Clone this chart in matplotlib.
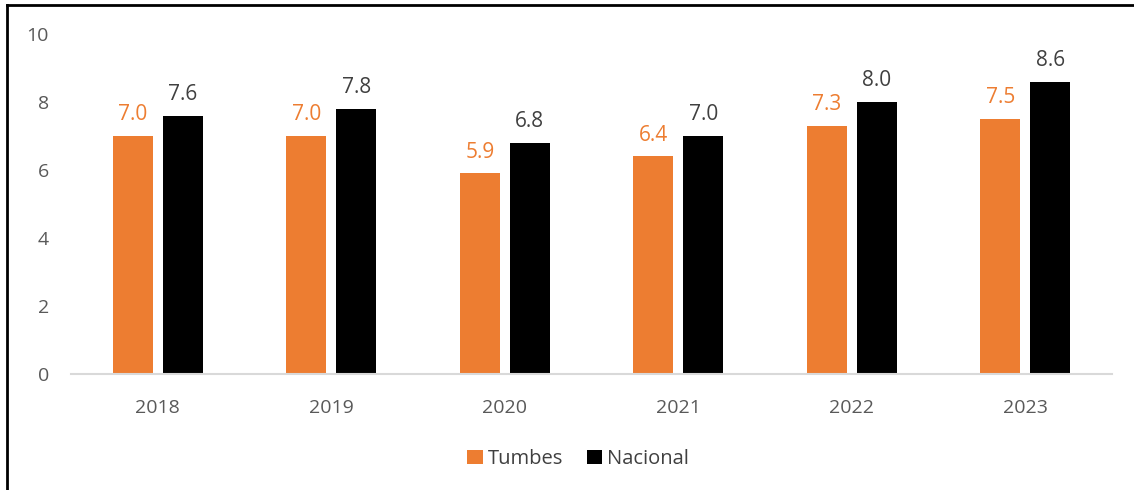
import numpy as np
import matplotlib.pyplot as plt
from matplotlib.lines import Line2D

years = ["2018", "2019", "2020", "2021", "2022", "2023"]
tumbes = [7.0, 7.0, 5.9, 6.4, 7.3, 7.5]
nacional = [7.6, 7.8, 6.8, 7.0, 8.0, 8.6]

plt.rcParams['font.family'] = ['Open Sans', 'DejaVu Sans']

orange = "#ED7D31"
fig = plt.figure(figsize=(11.34, 4.9), dpi=100)
ax = fig.add_axes([0.0626, 0.2367, 0.918, 0.6939])

x = np.arange(len(years))
w = 0.23
off = 0.144
b1 = ax.bar(x - off, tumbes, w, color=orange, label="Tumbes")
b2 = ax.bar(x + off, nacional, w, color="black", label="Nacional")

for xi, v in zip(x, tumbes):
    ax.text(xi - off, v + 0.32, f"{v:.1f}", ha="center", va="bottom",
            fontsize=15, color=orange)
for xi, v in zip(x, nacional):
    ax.text(xi + off, v + 0.32, f"{v:.1f}", ha="center", va="bottom",
            fontsize=15, color="#404040")

ax.set_xlim(-0.5, len(years) - 0.5)
ax.set_ylim(0, 10)
ax.set_yticks([0, 2, 4, 6, 8, 10])
ax.set_xticks(x)
ax.set_xticklabels(years)
ax.tick_params(axis="both", length=0, labelsize=14, colors="#595959")
ax.tick_params(axis="x", pad=18)
ax.tick_params(axis="y", pad=16)
for s in ["top", "right", "left"]:
    ax.spines[s].set_visible(False)
ax.spines["bottom"].set_color("#D9D9D9")
ax.spines["bottom"].set_linewidth(1.5)

fig.legend(handles=[b1, b2], loc="center", bbox_to_anchor=(0.51, 0.063),
           ncol=2, frameon=False, fontsize=14.5, handlelength=0.75,
           handleheight=0.75, handletextpad=0.25, columnspacing=1.2,
           labelcolor="#404040")

# marco del grafico (solo izquierda y arriba)
fig.add_artist(Line2D([7 / 1134, 7 / 1134], [0, 1 - 5 / 490], transform=fig.transFigure,
                      color="black", lw=2))
fig.add_artist(Line2D([7 / 1134, 1], [1 - 5 / 490, 1 - 5 / 490], transform=fig.transFigure,
                      color="black", lw=2))

fig.savefig("out.png", dpi=100)
